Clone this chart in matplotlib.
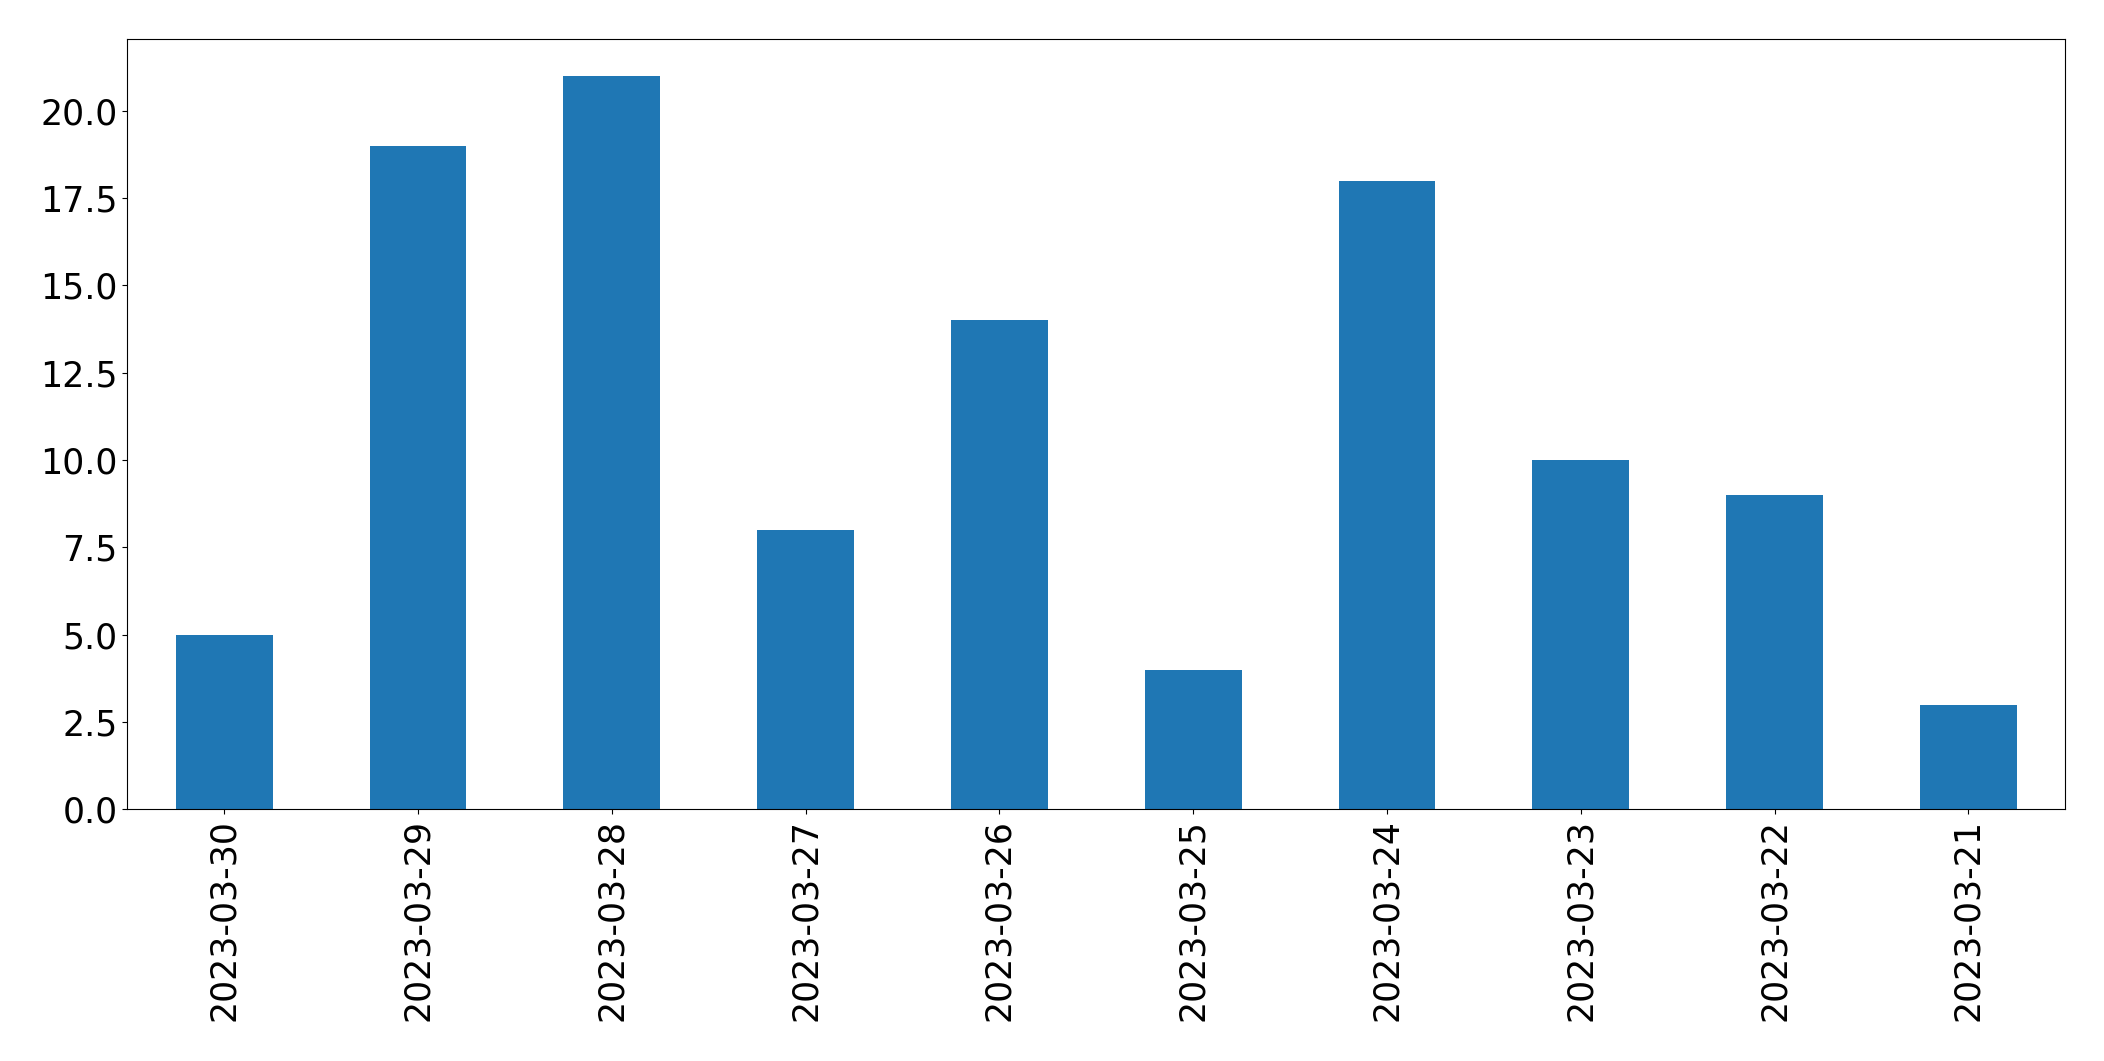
import matplotlib
matplotlib.use("Agg")
import matplotlib.pyplot as plt

dates = [
    "2023-03-30", "2023-03-29", "2023-03-28", "2023-03-27", "2023-03-26",
    "2023-03-25", "2023-03-24", "2023-03-23", "2023-03-22", "2023-03-21",
]
counts = [5, 19, 21, 8, 14, 4, 18, 10, 9, 3]

fig = plt.figure(figsize=(21.04, 10.61), dpi=100)
ax = fig.add_axes([127.3 / 2104, 1 - 809.3 / 1061, (2065.3 - 127.3) / 2104, (809.3 - 39.3) / 1061])

x = range(len(dates))
ax.bar(x, counts, width=0.5, color="#1f77b4")
ax.set_xlim(-0.5, len(dates) - 0.5)
ax.set_ylim(0, max(counts) * 1.05)
ax.set_yticks([0, 2.5, 5, 7.5, 10, 12.5, 15, 17.5, 20])
ax.set_yticklabels([f"{v:.1f}" for v in ax.get_yticks()])
ax.set_xticks(list(x))
ax.set_xticklabels(dates, rotation=90)
ax.tick_params(labelsize=25)

fig.savefig("out.png", dpi=100)
